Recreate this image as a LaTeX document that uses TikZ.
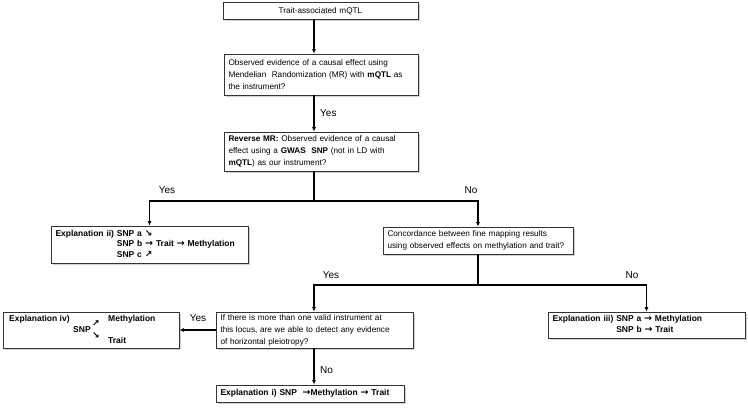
\documentclass[tikz,border=0pt]{standalone}
\usepackage{fontspec}
\setmainfont{Liberation Sans}
\newfontfamily\dejavu{DejaVu Sans}
\usetikzlibrary{arrows.meta,shadows,calc}
\newcommand\myR{{\dejavu\fontsize{9.5}{9}\selectfont →}}
\newcommand\mySE{{\dejavu\fontsize{9}{9}\selectfont ↘}}
\newcommand\myNE{{\dejavu\fontsize{9}{9}\selectfont ↗}}
\begin{document}
\begin{tikzpicture}[x=1pt,y=-1pt,
  box/.style={draw=black!80, line width=0.8pt, fill=white,
    drop shadow={shadow xshift=1.5pt,shadow yshift=-1.5pt,fill=black!35},
    inner xsep=4.5pt, inner ysep=2pt, font=\fontsize{8.2}{12}\selectfont,
    align=left, anchor=center},
  expl/.style={box, font=\bfseries\fontsize{8.5}{10.5}\selectfont},
  etxt/.style={font=\bfseries\fontsize{8.5}{10.5}\selectfont, inner sep=0pt, anchor=west},
  arr/.style={line width=1.1pt, -{Latex[length=4.5pt,width=4pt]}},
  ln/.style={line width=1.1pt},
  lab/.style={font=\fontsize{10}{12}\selectfont, inner sep=0pt}]

\useasboundingbox (0,0) rectangle (748,408);

\coordinate (sp) at (314,0);

\node[box, text width=186pt, align=center, minimum height=17pt] (b1) at (320.5,11) {Trait-associated mQTL};
\node[box, text width=185pt, minimum height=41pt] (b2) at (321,74.5)
  {Observed evidence of a causal effect using\\
   Mendelian\ \ Randomization (MR) with \textbf{mQTL} as\\
   the instrument?};
\node[box, text width=185pt, minimum height=39pt] (b3) at (321,151.5)
  {\textbf{Reverse MR:} Observed evidence of a causal\\
   effect using a \textbf{GWAS\ \ SNP} (not in LD with\\
   \textbf{mQTL}) as our instrument?};
\node[expl, text width=188pt, minimum height=37pt] (e2) at (149.5,244.5)
  {\begin{tabular}{@{}l@{\ }l@{}}
    Explanation ii) & SNP a \mySE\\
    & SNP b \myR{} Trait \myR{} Methylation\\
    & SNP c \myNE
   \end{tabular}};
\node[box, text width=181pt, minimum height=27pt] (cc) at (478,240.5)
  {Concordance between fine mapping results\\
   using observed effects on methylation and trait?};
\node[box, text width=188pt, minimum height=36pt] (q) at (314.5,330)
  {If there is more than one valid instrument at\\
   this locus, are we able to detect any evidence\\
   of horizontal pleiotropy?};
\node[box, text width=167pt, minimum height=36pt] (e4) at (91,330) {};
\node[etxt] (e4a) at (9,319) {Explanation iv)};
\node[etxt] (e4m) at (108,319) {Methylation};
\node[etxt] (e4s) at (73,330) {SNP};
\node[etxt] (e4t) at (108,340) {Trait};
\node[etxt] (e4ne) at (92,324) {\myNE};
\node[etxt] (e4se) at (92,335.5) {\mySE};
\node[expl, text width=179pt, minimum height=17pt] (e1) at (310,393.5)
  {Explanation i) SNP\ \ \myR Methylation \myR{} Trait};
\node[expl, text width=188pt, minimum height=26pt] (e3) at (646.5,325)
  {\begin{tabular}{@{}l@{\ }l@{}}
    Explanation iii) & SNP a \myR{} Methylation\\
    & SNP b \myR{} Trait
   \end{tabular}};

\draw[arr] (b1.south -| sp) -- (b2.north -| sp);
\draw[arr] (b2.south -| sp) -- (b3.north -| sp);
\node[lab, anchor=west] (l1) at (320,113) {Yes};

\coordinate (j1) at (314,201);
\draw[ln] (b3.south -| sp) -- (j1);
\draw[arr] (j1) -| (e2.north);
\draw[arr] (j1) -| (cc.north);
\node[lab] (l2) at (167,190) {Yes};
\node[lab] (l3) at (471,190) {No};

\coordinate (j2) at (478,285);
\draw[ln] (cc.south) -- (j2);
\draw[arr] (j2) -| (q.north -| sp);
\draw[arr] (j2) -| (e3.north);
\node[lab] (l4) at (331,275) {Yes};
\node[lab] (l5) at (632,275) {No};

\draw[arr] (q.west) -- (e4.east);
\node[lab] (l6) at (198,318) {Yes};
\draw[arr] (q.south -| sp) -- (e1.north -| sp);
\node[lab, anchor=west] (l7) at (320,370) {No};
\end{tikzpicture}
\end{document}
